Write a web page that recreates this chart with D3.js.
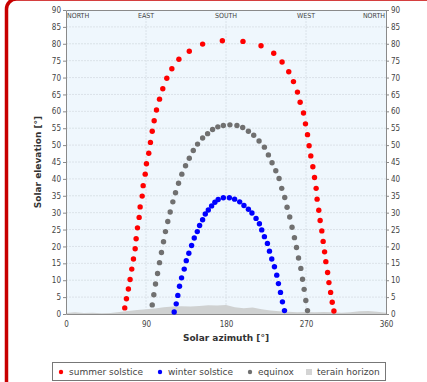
<!DOCTYPE html>
<html>
<head>
<meta charset="utf-8">
<script src="https://cdn.jsdelivr.net/npm/d3@7"></script>
<style>
  body { margin: 0; background: #fff; }
  svg { display: block; font-family: "DejaVu Sans", sans-serif; }
</style>
</head>
<body>
<div id="chart"></div>
<script>
// values: [azimuth deg, elevation deg]
const summerSolstice = [
  [66.1, 1.8], [68.0, 4.5], [70.2, 7.4], [72.1, 10.2], [74.0, 13.3], [75.9, 16.3],
  [77.8, 19.3], [78.9, 22.3], [80.4, 25.5], [82.3, 28.6], [83.4, 31.7], [85.7, 34.9],
  [86.8, 38.0], [89.1, 41.4], [90.5, 44.5], [93.1, 47.6], [95.0, 50.8], [97.0, 54.1],
  [99.2, 57.2], [101.8, 60.4], [105.2, 63.6], [108.9, 66.7], [113.4, 69.8], [119.1, 72.6],
  [127.0, 75.4], [138.7, 77.8], [153.7, 79.9], [175.9, 80.9], [199.1, 80.7], [219.4, 79.4],
  [233.7, 77.2], [243.1, 74.6], [250.6, 71.7], [255.9, 68.8], [260.4, 65.7], [263.4, 62.7],
  [267.2, 59.5], [269.4, 56.3], [271.7, 53.1], [273.5, 49.8], [275.4, 46.8], [277.7, 43.6],
  [279.6, 40.4], [281.4, 37.2], [282.5, 34.0], [284.4, 30.7], [285.9, 27.7], [287.8, 24.6],
  [289.3, 21.5], [290.9, 18.4], [292.3, 15.5], [294.3, 12.3], [295.8, 9.3], [297.7, 6.4],
  [299.5, 3.5], [301.4, 0.9]
];
const winterSolstice = [
  [121.7, 0.6], [124.0, 3.0], [125.8, 5.5], [127.7, 8.2], [130.0, 10.7], [133.0, 13.3],
  [135.3, 15.8], [138.2, 18.0], [141.3, 20.3], [144.3, 22.5], [147.7, 24.4], [150.3, 26.2],
  [153.7, 27.9], [156.7, 29.6], [160.1, 30.8], [163.8, 32.0], [167.5, 33.1], [171.2, 33.9],
  [177.0, 34.4], [183.8, 34.4], [189.7, 34.0], [195.4, 33.2], [200.2, 32.1], [205.2, 31.0],
  [209.2, 29.9], [213.8, 28.3], [217.6, 26.7], [220.2, 24.9], [223.2, 22.9], [226.6, 20.9],
  [228.9, 18.6], [231.5, 16.3], [234.5, 14.0], [237.1, 11.5], [239.0, 9.0], [241.3, 6.4],
  [243.5, 3.6], [245.8, 1.0]
];
const equinox = [
  [97.0, 2.7], [98.8, 5.7], [100.7, 8.9], [103.0, 12.0], [105.2, 15.2], [107.4, 18.2],
  [109.7, 21.4], [111.9, 24.4], [114.5, 27.4], [117.2, 30.2], [120.2, 33.2], [123.2, 35.9],
  [126.6, 38.7], [130.3, 41.4], [134.5, 43.9], [138.7, 46.1], [143.2, 48.4], [148.0, 50.3],
  [153.7, 52.1], [159.3, 53.4], [164.9, 54.6], [170.8, 55.4], [177.0, 55.8], [184.4, 56.0],
  [192.3, 55.8], [198.8, 55.2], [205.2, 54.1], [211.2, 52.9], [217.2, 51.2], [223.2, 49.4],
  [227.7, 47.1], [231.8, 44.8], [236.0, 42.4], [239.7, 40.1], [242.7, 37.2], [246.1, 34.5],
  [248.7, 31.6], [251.7, 28.7], [254.3, 25.7], [257.0, 22.6], [259.3, 19.7], [261.6, 16.6],
  [264.2, 13.5], [266.1, 10.3], [267.9, 7.3], [269.8, 4.0], [271.7, 1.0]
];
const horizonAz = [0, 10, 20, 30, 40, 50, 60, 70, 80, 90, 100, 110, 120, 130, 140, 150, 160, 170, 180,
  190, 200, 210, 220, 230, 240, 250, 260, 270, 280, 290, 300, 310, 320, 330, 340, 350, 360];
const horizonEl = [0.3, 0.5, 0.3, 0.4, 0.2, 0.3, 0.6, 0.9, 1.2, 1.4, 1.6, 2.0, 2.2, 2.3, 2.2, 2.4, 2.6, 2.5, 2.7,
  2.0, 1.7, 1.9, 1.4, 1.0, 0.8, 0.7, 0.5, 0.6, 0.5, 0.6, 0.5, 0.4, 0.5, 0.8, 0.9, 0.7, 0.4];

const xTicks = [0, 90, 180, 270, 360];
const yTicks = d3.range(0, 91, 5);
const directions = [["NORTH", 0, "start"], ["EAST", 90, "middle"], ["SOUTH", 180, "middle"],
  ["WEST", 270, "middle"], ["NORTH", 360, "end"]];
const legendItems = [
  { label: "summer solstice", color: "#ff0000", kind: "dot" },
  { label: "winter solstice", color: "#0000ff", kind: "dot" },
  { label: "equinox", color: "#707070", kind: "dot" },
  { label: "terain horizon", color: "#d4d4d4", kind: "square" }
];

const width = 427, height = 382;
const margin = { top: 10, right: 41, bottom: 68, left: 66 };

const svg = d3.select("#chart").append("svg")
  .attr("width", width).attr("height", height);

// red rounded frame
svg.append("rect")
  .attr("x", 6.5).attr("y", -1).attr("width", 440).attr("height", 420)
  .attr("rx", 10).attr("fill", "#fff")
  .attr("stroke", "#c80000").attr("stroke-width", 3.5);

const x = d3.scaleLinear().domain([0, 360]).range([margin.left, width - margin.right]);
const y = d3.scaleLinear().domain([0, 90]).range([height - margin.bottom, margin.top]);

// plot background
svg.append("rect")
  .attr("x", x(0)).attr("y", y(90))
  .attr("width", x(360) - x(0)).attr("height", y(0) - y(90))
  .attr("fill", "#eff7fd");

// grid
svg.append("g").selectAll("line").data(yTicks.slice(1, -1)).join("line")
  .attr("x1", x(0)).attr("x2", x(360))
  .attr("y1", d => y(d)).attr("y2", d => y(d))
  .attr("stroke", "#d6dde3").attr("stroke-width", 0.8).attr("stroke-dasharray", "2,1");
svg.append("g").selectAll("line").data(xTicks.slice(1, -1)).join("line")
  .attr("x1", d => x(d)).attr("x2", d => x(d))
  .attr("y1", y(0)).attr("y2", y(90))
  .attr("stroke", "#d6dde3").attr("stroke-width", 0.8).attr("stroke-dasharray", "2,1");

// terrain horizon
const horizon = horizonAz.map((a, i) => [a, horizonEl[i]]);
svg.append("path").datum(horizon)
  .attr("fill", "#cfd1d1")
  .attr("d", d3.area().x(d => x(d[0])).y0(y(0)).y1(d => y(d[1])));

// axes
const axisStyle = g => {
  g.select(".domain").attr("stroke", "#8a8a8a");
  g.selectAll(".tick line").attr("stroke", "#8a8a8a");
  g.selectAll(".tick text").attr("fill", "#444").attr("font-size", 8)
    .attr("font-family", "'DejaVu Sans Condensed', 'DejaVu Sans', sans-serif");
};
svg.append("g").attr("transform", `translate(${x(0)},0)`)
  .call(d3.axisLeft(y).tickValues(yTicks).tickSize(3).tickSizeOuter(0).tickPadding(2))
  .call(axisStyle);
svg.append("g").attr("transform", `translate(${x(360)},0)`)
  .call(d3.axisRight(y).tickValues(yTicks).tickSize(3).tickSizeOuter(0).tickPadding(2))
  .call(axisStyle);
svg.append("g").attr("transform", `translate(0,${y(0)})`)
  .call(d3.axisBottom(x).tickValues(xTicks).tickSize(0).tickPadding(7))
  .call(axisStyle);
svg.append("g").attr("transform", `translate(0,${y(90)})`)
  .call(d3.axisTop(x).tickValues([]).tickSizeOuter(0))
  .call(axisStyle);

// compass labels
svg.append("g").selectAll("text").data(directions).join("text")
  .attr("x", d => x(d[1]) + (d[2] === "start" ? 1 : d[2] === "end" ? -1 : 0))
  .attr("y", y(90) + 8)
  .attr("text-anchor", d => d[2])
  .attr("font-size", 7).attr("fill", "#444")
  .attr("font-family", "'DejaVu Sans Condensed', 'DejaVu Sans', sans-serif")
  .text(d => d[0]);

// sun paths
const series = [
  [summerSolstice, "#ff0000"],
  [equinox, "#707070"],
  [winterSolstice, "#0000ff"]
];
series.forEach(([data, color]) => {
  svg.append("g").selectAll("circle").data(data).join("circle")
    .attr("cx", d => x(d[0])).attr("cy", d => y(d[1]))
    .attr("r", 2.7).attr("fill", color);
});

// axis titles
svg.append("text")
  .attr("x", (x(0) + x(360)) / 2).attr("y", 341)
  .attr("text-anchor", "middle").attr("font-size", 9).attr("font-weight", "bold").attr("fill", "#333")
  .text("Solar azimuth [°]");
svg.append("text")
  .attr("transform", `translate(41,${(y(0) + y(90)) / 2}) rotate(-90)`)
  .attr("text-anchor", "middle").attr("font-size", 9).attr("font-weight", "bold").attr("fill", "#333")
  .text("Solar elevation [°]");

// legend
const legend = svg.append("g");
legend.append("rect")
  .attr("x", 52.5).attr("y", 362.5).attr("width", 333).attr("height", 18)
  .attr("fill", "#fff").attr("stroke", "#777").attr("stroke-width", 1);
const legendX = [61, 160, 250, 309];
legendItems.forEach((it, i) => {
  const g = legend.append("g").attr("transform", `translate(${legendX[i]},372)`);
  if (it.kind === "dot") {
    g.append("circle").attr("r", 2.2).attr("fill", it.color);
  } else {
    g.append("rect").attr("x", -3).attr("y", -3).attr("width", 6).attr("height", 6).attr("fill", it.color);
  }
  g.append("text").attr("x", 8).attr("y", 3.2)
    .attr("font-size", 9).attr("fill", "#444")
    .text(it.label);
});
</script>
</body>
</html>
